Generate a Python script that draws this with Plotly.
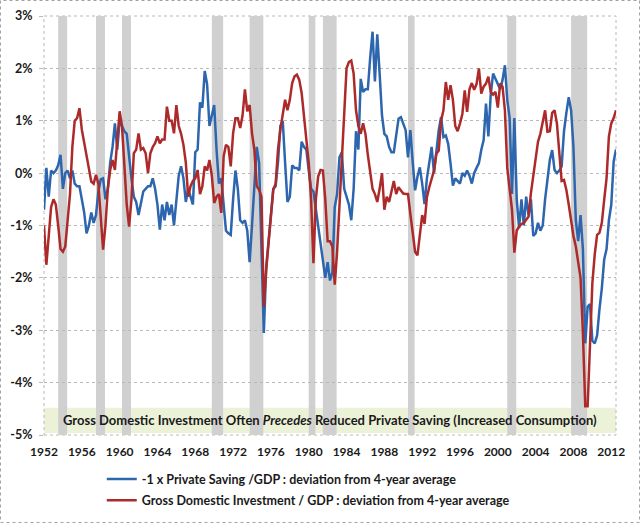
import plotly.graph_objects as go

# quarterly deviations from 4-year average, % of GDP, 1952Q1 .. 2012Q3
first_year = 1952

saving_dev = [  # -1 x private saving / GDP
    -0.7, 0.1, -0.45, 0.05,      # 1952
    0.0, 0.05, 0.15, 0.35,       # 1953
    -0.3, 0.0, 0.05, -0.1,       # 1954
    0.05, -0.2, -0.25, -0.25,    # 1955
    -0.5, -0.75, -1.15, -1.0,    # 1956
    -0.75, -0.95, -0.8, -0.35,   # 1957
    -0.12, -0.1, -0.5, -0.3,     # 1958
    0.2, 0.5, 0.95, 0.45,        # 1959
    1.0, 0.9, 0.8, 0.75,         # 1960
    0.3, -0.1, -0.45, -0.55,     # 1961
    -0.8, -0.55, -0.35, -0.3,    # 1962
    -0.25, -0.25, -0.1, -0.3,    # 1963
    -0.6, -1.08, -0.6, -0.9,     # 1964
    -0.55, -0.8, -0.6, -1.0,     # 1965
    -0.5, -0.05, 0.13, -0.1,     # 1966
    -0.55, -0.3, -0.45, -0.6,    # 1967
    0.4, 0.45, 1.35, 1.25,       # 1968
    1.95, 1.7, 0.9, 1.1,         # 1969
    1.3, 0.45, -0.2, -0.1,       # 1970
    -0.55, -1.1, -1.15, -1.18,   # 1971
    -0.5, 0.05, -0.3, -0.9,      # 1972
    -0.95, -0.9, -1.1, -1.7,     # 1973
    -1.0, -0.2, 0.5, 0.2,        # 1974
    -1.5, -3.05, -1.8, -1.3,     # 1975
    -0.8, -0.3, -0.25, 0.2,      # 1976
    0.9, 1.0, 0.2, -0.55,        # 1977
    -0.45, 0.15, 0.1, 0.1,       # 1978
    0.05, 0.6, 0.5, 0.45,        # 1979
    0.05, -0.3, -0.35, -0.7,     # 1980
    -1.05, -1.3, -1.65, -2.0,    # 1981
    -1.7, -2.05, -1.9, -0.65,    # 1982
    -0.4, 0.3, 0.4, -0.3,        # 1983
    -0.45, -0.6, -0.9, -0.3,     # 1984
    0.8, 0.45, 1.8, 1.55,        # 1985
    1.6, 1.6, 2.2, 2.7,          # 1986
    1.75, 2.65, 1.9, 1.1,        # 1987
    0.75, 0.7, 0.5, 0.4,         # 1988
    0.4, 0.75, 1.04, 1.07,       # 1989
    0.95, 0.82, 0.3, 0.82,       # 1990
    0.2, -0.33, -0.07, 0.11,     # 1991
    -0.2, -0.59, -0.1, 0.24,     # 1992
    0.5, 0.0, 0.37, 0.82,        # 1993
    1.07, 0.69, 0.72, 0.56,      # 1994
    0.18, -0.24, -0.1, -0.15,    # 1995
    -0.2, 0.0, -0.05, 0.05,      # 1996
    -0.05, -0.2, 0.0, 0.1,       # 1997
    0.19, 0.44, 0.63, 1.33,      # 1998
    0.7, 1.5, 1.9, 1.8,          # 1999
    1.68, 1.6, 1.78, 2.06,       # 2000
    1.4, 1.05, -0.4, 1.05,       # 2001
    -0.5, -1.05, -0.5, -1.0,     # 2002
    -0.45, -0.8, -0.5, -1.2,     # 2003
    -1.15, -0.95, -1.1, -1.0,    # 2004
    -0.5, -0.13, 0.25, 0.44,     # 2005
    0.06, 0.0, 0.05, 0.13,       # 2006
    0.8, 1.15, 1.45, 1.2,        # 2007
    0.5, -0.9, -1.3, -0.8,       # 2008
    -1.46, -3.25, -2.55, -2.5,   # 2009
    -3.2, -3.25, -3.1, -2.6,     # 2010
    -2.2, -1.65, -1.45, -0.9,    # 2011
    -0.6, 0.22, 0.45,            # 2012
]

invest_dev = [  # gross domestic investment / GDP
    -1.0, -1.75, -1.2, -0.65,    # 1952
    -0.5, -0.6, -1.0, -1.45,     # 1953
    -1.5, -1.4, -0.9, -0.4,      # 1954
    0.5, 1.0, 1.05, 1.24,        # 1955
    0.83, 0.57, 0.3, 0.05,       # 1956
    -0.16, -0.2, -0.03, -0.2,    # 1957
    -0.76, -1.46, -1.0, -0.3,    # 1958
    0.06, 0.25, 0.06, 0.57,      # 1959
    1.18, 0.9, 0.25, -0.6,       # 1960
    -1.02, -0.5, 0.38, 0.45,     # 1961
    0.76, 0.45, 0.48, 0.38,      # 1962
    0.0, 0.38, 0.5, 0.57,        # 1963
    0.7, 0.57, 0.64, 0.64,       # 1964
    1.27, 1.0, 1.0, 0.76,        # 1965
    1.3, 0.9, 0.75, 0.54,        # 1966
    0.2, -0.45, -0.25, -0.15,    # 1967
    -0.1, 0.06, -0.4, -0.25,     # 1968
    0.13, 0.05, 0.25, -0.05,     # 1969
    -0.57, -0.45, -0.4, -0.76,   # 1970
    0.32, 0.54, 0.5, 0.13,       # 1971
    0.76, 1.05, 1.05, 0.86,      # 1972
    1.1, 1.6, 1.18, 1.3,         # 1973
    0.76, 0.45, -0.25, -0.32,    # 1974
    -0.45, -2.55, -1.85, -1.34,  # 1975
    -0.83, -0.32, -0.2, 0.45,    # 1976
    0.83, 1.08, 1.4, 1.2,        # 1977
    1.4, 1.72, 1.85, 1.88,       # 1978
    1.78, 1.53, 1.02, 0.64,      # 1979
    0.2, -0.5, -1.72, -0.5,      # 1980
    -0.06, 0.06, 0.05, -0.5,     # 1981
    -1.3, -1.3, -1.4, -2.13,     # 1982
    -1.5, -0.6, 0.4, 1.3,        # 1983
    2.0, 2.12, 2.15, 1.9,        # 1984
    1.2, 0.9, 0.75, 0.95,        # 1985
    0.75, 0.35, 0.0, -0.3,       # 1986
    -0.4, -0.55, -0.3, 0.0,      # 1987
    -0.7, -0.45, -0.55, -0.35,   # 1988
    -0.15, -0.4, -0.27, -0.33,   # 1989
    -0.39, -0.4, -0.4, -0.78,    # 1990
    -1.2, -1.5, -1.57, -1.22,    # 1991
    -0.8, -0.97, -0.46, -0.27,   # 1992
    -0.1, 0.05, 0.37, 0.43,      # 1993
    1.0, 1.2, 1.74, 1.4,         # 1994
    1.68, 1.4, 0.9, 0.8,         # 1995
    0.95, 1.13, 1.58, 1.17,      # 1996
    1.6, 1.72, 1.59, 1.7,        # 1997
    2.0, 1.52, 1.65, 1.71,       # 1998
    1.84, 1.55, 1.5, 1.55,       # 1999
    1.25, 1.71, 1.65, 1.2,       # 2000
    0.1, -0.35, -0.7, -1.52,     # 2001
    -1.1, -1.02, -0.97, -0.95,   # 2002
    -0.9, -0.83, -0.38, -0.06,   # 2003
    0.25, 0.6, 0.75, 0.95,       # 2004
    1.2, 0.79, 0.8, 1.15,        # 2005
    1.2, 0.95, 0.38, -0.15,      # 2006
    -0.13, -0.32, -0.6, -0.95,   # 2007
    -1.2, -1.4, -1.7, -2.0,      # 2008
    -3.05, -4.45, -4.45, -3.1,   # 2009
    -2.1, -1.55, -1.18, -1.14,   # 2010
    -0.95, -0.51, -0.1, 0.7,     # 2011
    0.95, 1.05, 1.2,             # 2012
]

# NBER recessions (first and last quarter)
recessions = [
    ("1953Q3", "1954Q2"), ("1957Q3", "1958Q2"), ("1960Q2", "1961Q1"),
    ("1969Q4", "1970Q4"), ("1973Q4", "1975Q1"), ("1980Q1", "1980Q3"),
    ("1981Q3", "1982Q4"), ("1990Q3", "1991Q1"), ("2001Q1", "2001Q4"),
    ("2007Q4", "2009Q2"),
]

year_ticks = list(range(1952, 2013, 4))
pct_ticks = [3, 2, 1, 0, -1, -2, -3, -4, -5]
pct_labels = ["3%", "2%", "1%", "0%", "-1%", "-2%", "-3%", "-4%", "-5%"]

title_text = ("Gross Domestic Investment Often <i>Precedes</i> Reduced Private "
              "Saving (Increased Consumption)")
name_saving = "-1 x Private Saving /GDP : deviation from 4-year average"
name_invest = "Gross Domestic Investment / GDP : deviation from 4-year average"


def qpos(label):
    year, q = label.split("Q")
    return int(year) + (int(q) - 1) / 4


x = [first_year + i / 4 for i in range(len(saving_dev))]

FONT = "Lato"
TXT = "#1a1a1a"
GRID = "#b9b9b9"

fig = go.Figure()

fig.add_trace(go.Scatter(
    x=x, y=saving_dev, mode="lines", name=name_saving,
    line=dict(color="#2d66ae", width=2.5), legendgroup="a",
))
fig.add_trace(go.Scatter(
    x=x, y=invest_dev, mode="lines", name=name_invest,
    line=dict(color="#ad2a2a", width=2.5), legendgroup="b",
))

shapes = []
for start, end in recessions:
    shapes.append(dict(
        type="rect", xref="x", yref="y", layer="below",
        x0=qpos(start), x1=qpos(end) + 0.2, y0=-5, y1=3,
        fillcolor="#d0d0d0", line=dict(width=0),
    ))

# caption box along the bottom of the plot
shapes.append(dict(
    type="rect", xref="paper", yref="y", layer="between",
    x0=0, x1=1, y0=-4.96, y1=-4.48,
    fillcolor="#ecf2d8", line=dict(width=0),
))
# plot frame
shapes.append(dict(
    type="rect", xref="paper", yref="paper", layer="below",
    x0=0, x1=1, y0=0, y1=1,
    line=dict(color=GRID, width=1, dash="dot"),
))
# outer image border
shapes.append(dict(
    type="rect", xref="paper", yref="paper", layer="above",
    x0=-43.5 / 572, x1=1 + 23.5 / 572, y0=-87.5 / 419, y1=1 + 15.5 / 419,
    line=dict(color="#a0a0a0", width=1, dash="dot"),
))

fig.update_layout(
    width=640, height=523,
    margin=dict(l=44, r=24, t=16, b=88, autoexpand=False),
    paper_bgcolor="white", plot_bgcolor="white",
    font=dict(family=FONT, size=12, color=TXT, weight="bold"),
    shapes=shapes,
    showlegend=True,
    legend=dict(
        orientation="v", x=0.101, y=0.112, yref="container",
        xanchor="left", yanchor="top",
        font=dict(family=FONT, size=12.5, color=TXT, weight="bold"),
        itemwidth=30, tracegroupgap=2, bgcolor="rgba(0,0,0,0)",
    ),
    annotations=[dict(
        text=title_text, xref="paper", yref="y", x=0.5, y=-4.72,
        showarrow=False,
        font=dict(family=FONT, size=13, color=TXT, weight="bold"),
    )],
)

fig.update_xaxes(
    range=[1952, 2012.5], showgrid=False, zeroline=False, showline=False,
    tickvals=year_ticks, ticktext=[str(y) for y in year_ticks],
    tickfont=dict(family=FONT, size=12, color=TXT, weight="bold"),
    ticks="", ticklabelstandoff=8, automargin=False,
)
fig.update_yaxes(
    range=[-5, 3], tickvals=pct_ticks, ticktext=pct_labels,
    showgrid=True, gridcolor=GRID, griddash="dot", gridwidth=1,
    zeroline=False, showline=False,
    ticks="outside", ticklen=4, tickcolor=GRID, ticklabelstandoff=4,
    tickfont=dict(family=FONT, size=12.5, color=TXT, weight="bold"),
    automargin=False,
)

# drop the browser's default page margin so the figure sits at the corner
fig.write_html(
    "out.html",
    config={"displayModeBar": False},
    post_script="document.body.style.margin = '0';",
)
